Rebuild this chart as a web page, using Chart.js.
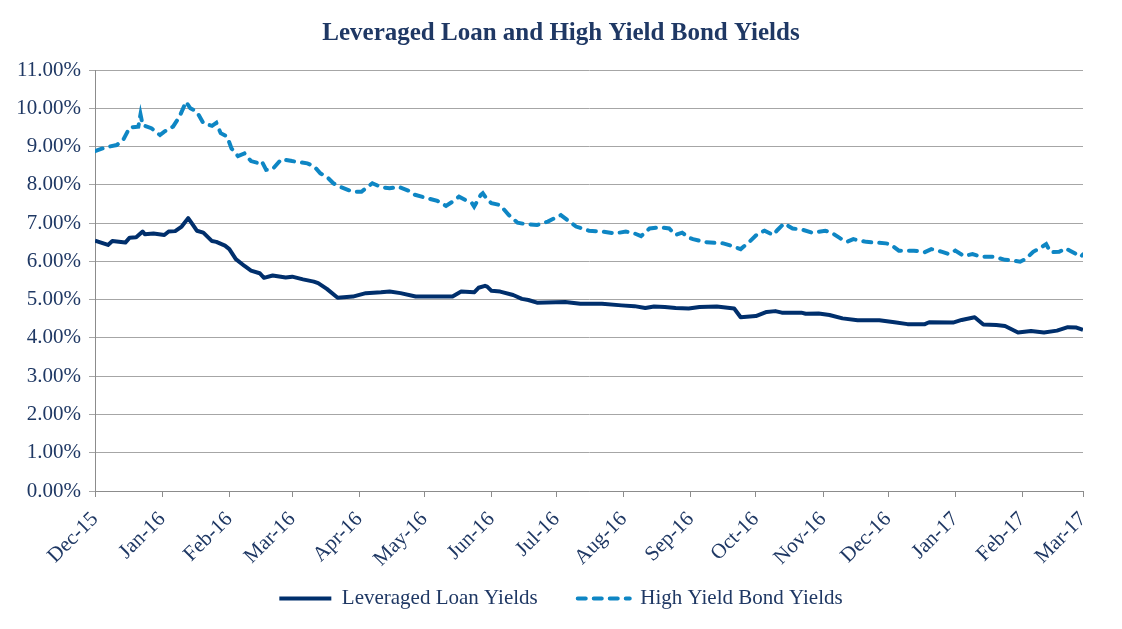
<!DOCTYPE html>
<html lang="en">
<head>
<meta charset="UTF-8">
<title>Leveraged Loan and High Yield Bond Yields</title>
<script src="https://cdn.jsdelivr.net/npm/chart.js"></script>
<style>
  html, body { margin: 0; padding: 0; background: #fff; }
  #wrap { width: 1122px; height: 629px; }
</style>
</head>
<body>
<div id="wrap"><canvas id="yieldChart"></canvas></div>
<script>
// x values are days counted from 1-Dec-2015
const monthLabels = ['Dec-15', 'Jan-16', 'Feb-16', 'Mar-16', 'Apr-16', 'May-16', 'Jun-16', 'Jul-16',
  'Aug-16', 'Sep-16', 'Oct-16', 'Nov-16', 'Dec-16', 'Jan-17', 'Feb-17', 'Mar-17'];
const monthStartDays = [0, 31, 62, 91, 122, 152, 183, 213, 244, 275, 305, 336, 366, 397, 428, 456];

const loanDays = [0, 6, 8, 14, 16, 19, 22, 23, 27, 32, 34, 37, 40, 43, 44, 47, 50, 54, 56, 60,
  62, 65, 69, 72, 76, 78, 82, 88, 91, 96, 101, 103, 107, 112, 119, 125, 132, 136, 141, 148,
  165, 169, 175, 177, 180, 181, 183, 187, 193, 197, 200, 204, 217, 224, 234, 243, 249, 254, 258, 263,
  268, 274, 279, 287, 295, 298, 305, 310, 314, 317, 326, 328, 334, 339, 345, 352, 362, 369, 375, 383,
  385, 396, 400, 406, 410, 416, 420, 426, 432, 438, 444, 449, 453, 456];
const loanYields = [6.54, 6.43, 6.53, 6.49, 6.62, 6.63, 6.78, 6.71, 6.73, 6.69, 6.78, 6.79, 6.91, 7.13, 7.05, 6.80, 6.75, 6.53, 6.51, 6.41,
  6.32, 6.06, 5.88, 5.76, 5.69, 5.57, 5.63, 5.58, 5.60, 5.53, 5.47, 5.43, 5.28, 5.05, 5.08, 5.17, 5.19, 5.21, 5.17, 5.08,
  5.08, 5.21, 5.19, 5.31, 5.36, 5.34, 5.23, 5.21, 5.12, 5.02, 4.99, 4.92, 4.94, 4.89, 4.89, 4.85, 4.83, 4.78, 4.82, 4.81,
  4.78, 4.77, 4.81, 4.82, 4.77, 4.54, 4.57, 4.68, 4.70, 4.66, 4.66, 4.63, 4.64, 4.60, 4.51, 4.46, 4.46, 4.41, 4.36, 4.36,
  4.41, 4.40, 4.47, 4.54, 4.35, 4.34, 4.31, 4.14, 4.18, 4.14, 4.19, 4.28, 4.27, 4.21];

const hyDays = [0, 5, 10, 13, 16, 20, 21, 22, 26, 30, 32, 36, 39, 42, 44, 47, 50, 54, 56, 58,
  61, 63, 66, 69, 72, 76, 77, 79, 82, 86, 91, 98, 101, 104, 107, 110, 113, 119, 123, 128,
  132, 136, 140, 145, 147, 152, 158, 162, 165, 168, 171, 174, 175, 178, 179, 181, 183, 187, 191, 195,
  198, 204, 209, 215, 218, 222, 228, 234, 240, 245, 249, 252, 256, 261, 265, 268, 271, 274, 276, 282,
  290, 294, 298, 302, 306, 309, 313, 315, 318, 322, 327, 331, 337, 340, 344, 347, 350, 356, 365, 367,
  371, 378, 383, 386, 391, 394, 397, 401, 405, 409, 415, 420, 424, 427, 430, 433, 436, 439, 441, 445,
  448, 450, 455, 456];
const hyYields = [8.88, 8.98, 9.04, 9.17, 9.50, 9.52, 9.84, 9.56, 9.48, 9.30, 9.39, 9.52, 9.78, 10.17, 10.00, 9.91, 9.61, 9.54, 9.62, 9.35,
  9.26, 8.95, 8.75, 8.82, 8.62, 8.56, 8.61, 8.39, 8.41, 8.67, 8.62, 8.56, 8.49, 8.30, 8.21, 8.04, 7.95, 7.82, 7.82, 8.04,
  7.94, 7.91, 7.95, 7.84, 7.75, 7.67, 7.58, 7.45, 7.56, 7.69, 7.60, 7.52, 7.43, 7.73, 7.78, 7.62, 7.52, 7.47, 7.21, 7.01,
  6.98, 6.95, 7.04, 7.21, 7.08, 6.91, 6.80, 6.78, 6.73, 6.78, 6.73, 6.66, 6.86, 6.89, 6.86, 6.69, 6.75, 6.62, 6.58, 6.50,
  6.47, 6.40, 6.32, 6.51, 6.73, 6.80, 6.69, 6.82, 6.99, 6.86, 6.82, 6.75, 6.80, 6.75, 6.60, 6.51, 6.58, 6.51, 6.47, 6.45,
  6.28, 6.28, 6.24, 6.32, 6.25, 6.19, 6.28, 6.14, 6.19, 6.12, 6.12, 6.04, 6.02, 5.99, 6.08, 6.25, 6.34, 6.45, 6.24, 6.25,
  6.34, 6.28, 6.12, 6.18];

const textColor = '#1F3864';
const serif = 'Liberation Serif, Times New Roman, serif';

// month labels hang below the (short) x axis box, so don't let them get clipped
const unclipLabels = {
  id: 'unclipLabels',
  afterLayout: (chart) => { chart.scales.x.bottom = chart.height; }
};

const ctx = document.getElementById('yieldChart').getContext('2d');
const yieldChart = new Chart(ctx, {
  type: 'line',
  data: {
    datasets: [{
      label: 'Leveraged Loan Yields',
      data: loanDays.map((d, i) => ({ x: d, y: loanYields[i] })),
      borderColor: '#002F6C',
      borderWidth: 4,
      borderJoinStyle: 'round',
      pointRadius: 0,
      tension: 0,
      fill: false
    }, {
      label: 'High Yield Bond Yields',
      data: hyDays.map((d, i) => ({ x: d, y: hyYields[i] })),
      borderColor: '#0E86C4',
      borderWidth: 4,
      borderDash: [8, 8],
      borderCapStyle: 'round',
      pointRadius: 0,
      tension: 0,
      fill: false
    }]
  },
  plugins: [unclipLabels],
  options: {
    responsive: true,
    maintainAspectRatio: false,
    animation: false,
    layout: { padding: { left: 0, right: 0, top: 0, bottom: 10 } },
    plugins: {
      title: {
        display: true,
        text: 'Leveraged Loan and High Yield Bond Yields',
        color: textColor,
        font: { family: serif, size: 25, weight: 'bold' },
        padding: { top: 19, bottom: 21 }
      },
      legend: {
        position: 'bottom',
        labels: {
          usePointStyle: true,
          pointStyle: 'line',
          pointStyleWidth: 52,
          color: textColor,
          font: { family: serif, size: 21 },
          padding: 40,
          // take the dash and width from the line itself, not from its points
          generateLabels: (chart) => {
            const items = Chart.defaults.plugins.legend.labels.generateLabels(chart);
            items.forEach((item) => {
              const ds = chart.data.datasets[item.datasetIndex];
              item.lineDash = ds.borderDash || [];
              item.lineWidth = ds.borderWidth;
              item.lineCap = ds.borderCapStyle || 'butt';
              item.strokeStyle = ds.borderColor;
            });
            return items;
          }
        }
      },
      tooltip: { enabled: false }
    },
    scales: {
      x: {
        type: 'linear',
        min: 0,
        max: 456,
        afterBuildTicks: (scale) => {
          scale.ticks = monthStartDays.map(v => ({ value: v }));
        },
        afterFit: (scale) => { scale.height = 57; },
        ticks: {
          autoSkip: false,
          minRotation: 45,
          maxRotation: 45,
          padding: 10,
          color: textColor,
          font: { family: serif, size: 21 },
          callback: (v) => monthLabels[monthStartDays.indexOf(v)]
        },
        grid: { drawOnChartArea: false, drawTicks: true, tickLength: 6, color: '#8C8C8C' },
        border: { color: '#8C8C8C' }
      },
      y: {
        min: 0,
        max: 11,
        afterFit: (scale) => { scale.width = 95; },
        ticks: {
          stepSize: 1,
          padding: 8,
          color: textColor,
          font: { family: serif, size: 21 },
          callback: (v) => v.toFixed(2) + '%'
        },
        grid: { color: '#A6A6A6', tickLength: 6 },
        border: { color: '#8C8C8C' }
      },
      // empty right-hand margin so the title and legend stay centred on the page
      yRight: {
        position: 'right',
        display: true,
        afterFit: (scale) => { scale.width = 39; },
        ticks: { display: false },
        grid: { display: false },
        border: { display: false }
      }
    }
  }
});
</script>
</body>
</html>
